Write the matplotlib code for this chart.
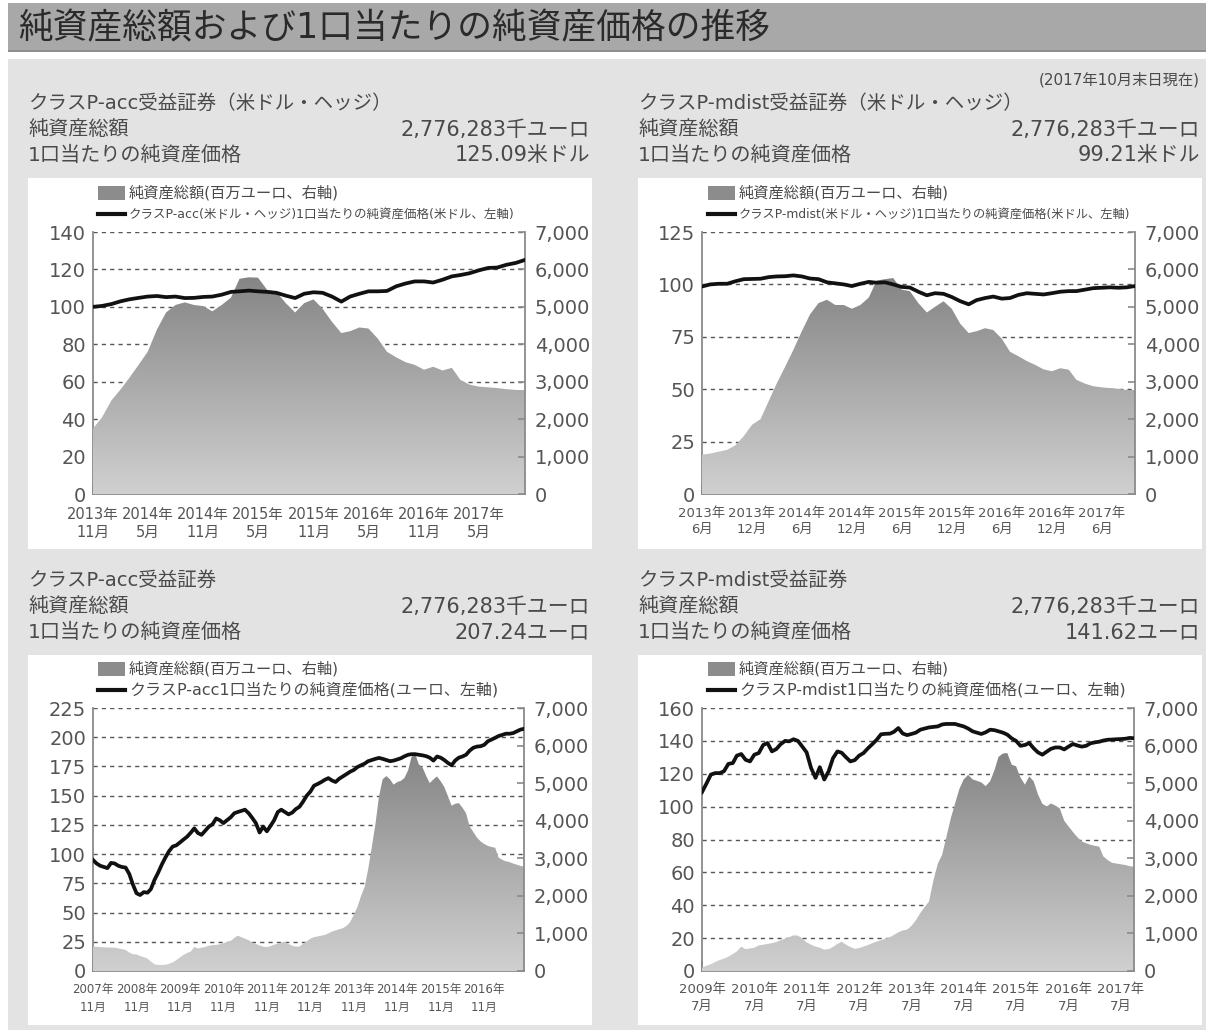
import numpy as np
import pandas as pd
import matplotlib
matplotlib.use('Agg')
import matplotlib.pyplot as plt
import matplotlib.dates as mdates
from matplotlib.patches import Rectangle
from matplotlib.lines import Line2D
from matplotlib.ticker import FuncFormatter
from matplotlib.colors import LinearSegmentedColormap

plt.rcParams['font.family'] = ['DejaVu Sans', 'Noto Sans CJK JP']

# ---------------- data ----------------
# Top-left: Class P-acc (USD hedged), monthly from 2013-11
tl_start = '2013-11'
tl_nav = [100.0, 100.5, 101.5, 103.0, 104.0, 104.8, 105.5, 105.8, 105.2, 105.5,
          104.7, 104.8, 105.3, 105.5, 106.5, 108.0, 108.3, 108.7, 108.3, 108.0,
          107.5, 106.0, 104.7, 107.0, 107.8, 107.5, 105.5, 102.8, 105.5, 107.0,
          108.3, 108.3, 108.5, 111.0, 112.5, 113.6, 113.6, 113.0, 114.5, 116.3,
          117.0, 118.0, 119.5, 120.8, 121.0, 122.5, 123.5, 125.09]
tl_aum = [1750, 2050, 2500, 2800, 3100, 3450, 3800, 4400, 4850, 5050,
          5120, 5050, 5020, 4880, 5050, 5250, 5750, 5790, 5780, 5450,
          5400, 5100, 4850, 5100, 5200, 4950, 4600, 4300, 4350, 4450,
          4420, 4150, 3800, 3650, 3520, 3450, 3320, 3400, 3300, 3370,
          3050, 2920, 2870, 2850, 2830, 2800, 2780, 2776]
tl_ticks = ['2013-11', '2014-05', '2014-11', '2015-05', '2015-11', '2016-05', '2016-11', '2017-05']
tl_ticklabels = ['2013年\n11月', '2014年\n5月', '2014年\n11月', '2015年\n5月',
                 '2015年\n11月', '2016年\n5月', '2016年\n11月', '2017年\n5月']

# Top-right: Class P-mdist (USD hedged), monthly from 2013-06
tr_start = '2013-06'
tr_nav = [99.0, 100.0, 100.3, 100.3, 101.5, 102.5, 102.6, 102.7, 103.5, 103.8,
          103.9, 104.3, 103.8, 102.8, 102.5, 101.0, 100.5, 100.0, 99.2, 100.3,
          101.2, 100.8, 101.0, 100.0, 98.8, 98.5, 96.5, 94.8, 95.8, 95.5,
          94.0, 92.0, 90.5, 92.5, 93.5, 94.2, 93.2, 93.5, 95.0, 95.8,
          95.5, 95.2, 95.8, 96.5, 96.8, 96.8, 97.5, 98.2, 98.4, 98.6,
          98.4, 98.6, 99.21]
tr_aum = [1050, 1080, 1130, 1180, 1300, 1550, 1850, 2000, 2500, 2950,
          3400, 3850, 4350, 4800, 5100, 5190, 5050, 5050, 4950, 5050,
          5250, 5700, 5740, 5770, 5460, 5420, 5100, 4850, 5000, 5150,
          4950, 4550, 4300, 4350, 4430, 4380, 4150, 3800, 3680, 3550,
          3450, 3330, 3280, 3360, 3320, 3050, 2950, 2880, 2850, 2830,
          2810, 2780, 2776]
tr_ticks = ['2013-06', '2013-12', '2014-06', '2014-12', '2015-06', '2015-12', '2016-06', '2016-12', '2017-06']
tr_ticklabels = ['2013年\n6月', '2013年\n12月', '2014年\n6月', '2014年\n12月', '2015年\n6月',
                 '2015年\n12月', '2016年\n6月', '2016年\n12月', '2017年\n6月']

# Bottom-left: Class P-acc (EUR), monthly from 2007-11
bl_start = '2007-11'
bl_nav = [95, 92, 90, 89, 88, 92.5, 92, 90, 89, 88.5,
          83, 74, 66.5, 65, 67.5, 67, 70, 78, 84, 91,
          97, 102.5, 106.5, 107.5, 110, 112.5, 115, 118.5, 122, 118,
          116.5, 120, 123.5, 125.5, 130.5, 129, 126.5, 129, 131.5, 135,
          136, 137, 138, 135, 131, 126.5, 118.5, 123.5, 119.5, 124,
          129, 136, 138, 136, 134, 135.5, 138.5, 140.5, 145, 150,
          153.5, 158.5, 160, 161.7, 163.5, 165, 163, 161.7, 164.5, 166.5,
          168.5, 170.5, 172, 174.5, 176, 177.5, 179.5, 180.5, 181.5, 182.3,
          181.5, 180.5, 179.5, 180, 181, 182, 183.7, 185, 185.5, 185.5,
          185, 184.5, 183.8, 182.5, 180, 183.5, 182.5, 180.5, 178, 176,
          180, 182.5, 183.5, 185, 188.5, 191, 192, 192.3, 193.5, 196.5,
          198, 199.5, 201, 202, 203, 203, 203.5, 205, 206.5, 207.24]
bl_aum = [650, 645, 635, 630, 625, 622, 620, 600, 580, 560,
          490, 450, 440, 400, 370, 330, 250, 180, 160, 160,
          165, 190, 230, 290, 360, 430, 480, 520, 640, 600,
          620, 640, 670, 690, 695, 710, 740, 770, 800, 880,
          940, 900, 860, 820, 760, 720, 680, 650, 635, 660,
          700, 730, 760, 780, 720, 670, 650, 650, 730, 790,
          860, 900, 920, 940, 960, 1000, 1050, 1080, 1110, 1140,
          1200, 1300, 1500, 1700, 2000, 2250, 2700, 3300, 3900, 4650,
          5100, 5190, 5100, 4960, 5030, 5060, 5140, 5350, 5700, 5780,
          5500, 5420, 5200, 5000, 5100, 5180, 5050, 4900, 4650, 4400,
          4450, 4470, 4350, 4200, 3850, 3700, 3550, 3450, 3380, 3330,
          3300, 3280, 3020, 2960, 2920, 2900, 2860, 2830, 2800, 2776]
bl_ticks = ['2007-11', '2008-11', '2009-11', '2010-11', '2011-11',
            '2012-11', '2013-11', '2014-11', '2015-11', '2016-11']
bl_ticklabels = ['2007年\n11月', '2008年\n11月', '2009年\n11月', '2010年\n11月', '2011年\n11月',
                 '2012年\n11月', '2013年\n11月', '2014年\n11月', '2015年\n11月', '2016年\n11月']

# Bottom-right: Class P-mdist (EUR), monthly from 2009-07
br_start = '2009-07'
br_nav = [108.8, 114, 119.5, 120.4, 120.4, 121.5, 126, 126.5, 131, 132,
          128.5, 127.5, 131.6, 132.6, 137.5, 138.7, 133.6, 135, 138, 140,
          139.7, 141, 140, 136.5, 133, 123.5, 117.5, 124, 116.5, 121.4,
          129.5, 133.6, 132.8, 130, 127.5, 128.3, 131, 132.6, 135.5, 138,
          140.7, 144, 144.3, 144.4, 145.5, 147.8, 144.5, 143.5, 144.2, 145,
          146.8, 147.5, 148.2, 148.5, 148.8, 150, 150.3, 150.3, 150.3, 149.5,
          148.8, 147.5, 145.8, 145, 144.2, 145.2, 146.8, 146.5, 145.8, 145,
          143.8, 141.5, 140, 137, 137.5, 138.7, 135.5, 133, 131.6, 133.5,
          135.2, 136, 136, 134.8, 136.5, 138.1, 137.2, 136.5, 137, 138.5,
          139.1, 139.5, 140.2, 140.7, 140.8, 141, 141.1, 141.3, 141.8, 141.62]
br_aum = [90, 140, 180, 240, 290, 330, 380, 450, 520, 650,
          580, 600, 620, 680, 700, 720, 740, 770, 820, 860,
          900, 950, 940, 870, 760, 700, 650, 620, 570, 580,
          640, 720, 780, 700, 640, 590, 610, 650, 690, 740,
          780, 820, 860, 900, 960, 1030, 1080, 1100, 1200, 1350,
          1540, 1700, 1850, 2400, 2850, 3100, 3550, 4050, 4450, 4850,
          5100, 5220, 5100, 5060, 5020, 4920, 5050, 5350, 5700, 5790,
          5800, 5490, 5450, 5150, 4960, 5180, 5050, 4700, 4450, 4380,
          4460, 4400, 4330, 4000, 3850, 3700, 3560, 3450, 3400, 3360,
          3330, 3310, 3050, 2950, 2880, 2860, 2840, 2820, 2790, 2776]
br_ticks = ['2009-07', '2010-07', '2011-07', '2012-07', '2013-07',
            '2014-07', '2015-07', '2016-07', '2017-07']
br_ticklabels = ['2009年\n7月', '2010年\n7月', '2011年\n7月', '2012年\n7月', '2013年\n7月',
                 '2014年\n7月', '2015年\n7月', '2016年\n7月', '2017年\n7月']

title = '純資産総額および1口当たりの純資産価格の推移'
asof = '(2017年10月末日現在)'
headers = [
    ('クラスP-acc受益証券（米ドル・ヘッジ）', '2,776,283千ユーロ', '125.09米ドル'),
    ('クラスP-mdist受益証券（米ドル・ヘッジ）', '2,776,283千ユーロ', '99.21米ドル'),
    ('クラスP-acc受益証券', '2,776,283千ユーロ', '207.24ユーロ'),
    ('クラスP-mdist受益証券', '2,776,283千ユーロ', '141.62ユーロ'),
]
legend_area = '純資産総額(百万ユーロ、右軸)'
legend_lines = [
    'クラスP-acc(米ドル・ヘッジ)1口当たりの純資産価格(米ドル、左軸)',
    'クラスP-mdist(米ドル・ヘッジ)1口当たりの純資産価格(米ドル、左軸)',
    'クラスP-acc1口当たりの純資産価格(ユーロ、左軸)',
    'クラスP-mdist1口当たりの純資産価格(ユーロ、左軸)',
]

# ---------------- figure ----------------
W, H = 1206, 1030
fig = plt.figure(figsize=(W / 100, H / 100), dpi=100)
fig.patch.set_facecolor('white')


def fx(x):
    return x / W


def fy(y):
    return 1 - y / H


def box(x0, y0, x1, y1, color, z=-10):
    fig.add_artist(Rectangle((fx(x0), fy(y1)), (x1 - x0) / W, (y1 - y0) / H,
                             transform=fig.transFigure, facecolor=color,
                             edgecolor='none', zorder=z))


def text(x, y, s, size, color='#333333', ha='left', va='center', **kw):
    fig.text(fx(x), fy(y), s, fontsize=size, color=color, ha=ha, va=va, **kw)


# backgrounds
box(8, 3, 1206, 52, '#a8a8a8')
box(8, 50, 1206, 52, '#8e8e8e')
box(8, 59, 1206, 1030, '#e3e3e3')
for (x0, y0, x1, y1) in [(28, 178, 592, 549), (638, 178, 1202, 549),
                         (28, 655, 592, 1025), (638, 655, 1202, 1025)]:
    box(x0, y0, x1, y1, 'white', z=-9)

text(18, 28, title, 25, color='#2a2a2a')
text(1200, 80, asof, 11, color='#4a4a4a', ha='right')

# headers
TXT = '#4a4a4a'
hdr_pos = [(28, 590, 103), (638, 1200, 103), (28, 590, 580), (638, 1200, 580)]
for (h, (xl, xr, y0)) in zip(headers, hdr_pos):
    text(xl, y0, h[0], 14, color=TXT)
    text(xl, y0 + 27, '純資産総額', 14.5, color=TXT)
    text(xl, y0 + 52, '1口当たりの純資産価格', 14.5, color=TXT)
    text(xr, y0 + 27, h[1], 15, color=TXT, ha='right')
    text(xr, y0 + 52, h[2], 15, color=TXT, ha='right')

cmap = LinearSegmentedColormap.from_list('aum', ['#d0d0d0', '#858585'])
SPINE = '#8a8a8a'


def panel(rect_px, start, nav, aum, ymax, ystep, ticks, ticklabels, xfs, xls,
          leg_x, leg_y, leg_line, leg_fs):
    l, t, r, b = rect_px
    pos = [fx(l), fy(b), (r - l) / W, (b - t) / H]
    x = mdates.date2num(pd.date_range(start, periods=len(nav), freq='MS').to_pydatetime())
    tx = mdates.date2num(pd.to_datetime(ticks).to_pydatetime())

    axL = fig.add_axes(pos)
    axL.set_facecolor('white')
    axL.set_xlim(x[0], x[-1])
    axL.set_ylim(0, ymax)
    axL.set_yticks(np.arange(0, ymax + 0.1, ystep))
    axL.yaxis.grid(True, linestyle=(0, (3, 3)), color='#555555', lw=1.0)
    axL.set_xticks(tx)
    axL.set_xticklabels(ticklabels, linespacing=xls)
    axL.tick_params(axis='y', length=0, labelsize=14, labelcolor='#555555', pad=5)
    axL.tick_params(axis='x', direction='in', length=7, width=1.2, color=SPINE,
                    labelsize=xfs, labelcolor='#555555', pad=9)
    for s in ['top', 'right']:
        axL.spines[s].set_visible(False)
    for s in ['left', 'bottom']:
        axL.spines[s].set_color(SPINE)
        axL.spines[s].set_linewidth(1.3)

    axR = axL.twinx()
    axR.set_ylim(0, 7000)
    axR.set_yticks(np.arange(0, 7001, 1000))
    axR.yaxis.set_major_formatter(FuncFormatter(lambda v, p: f'{int(v):,}'))
    axR.tick_params(axis='y', direction='in', length=5, width=1.2, color=SPINE,
                    labelsize=14, labelcolor='#555555', pad=7)
    for s in ['top', 'left', 'bottom']:
        axR.spines[s].set_visible(False)
    axR.spines['right'].set_color(SPINE)
    axR.spines['right'].set_linewidth(1.3)
    poly = axR.fill_between(x, 0, aum, facecolor='none', edgecolor='none')
    grad = np.linspace(0, 1, 256).reshape(-1, 1)
    im = axR.imshow(grad, extent=[x[0], x[-1], 0, max(aum)], origin='lower',
                    aspect='auto', cmap=cmap, interpolation='bilinear', zorder=1)
    im.set_clip_path(poly.get_paths()[0], transform=axR.transData)
    axR.set_xlim(x[0], x[-1])
    axR.set_ylim(0, 7000)

    axT = fig.add_axes(pos, sharex=axL, sharey=axL, label='line' + start)
    axT.patch.set_visible(False)
    axT.set_axis_off()
    axT.plot(x, nav, color='#111111', lw=2.7, solid_joinstyle='round')
    axT.set_xlim(x[0], x[-1])
    axT.set_ylim(0, ymax)

    # legend
    fig.add_artist(Rectangle((fx(leg_x), fy(leg_y + 7)), 27 / W, 14 / H,
                             transform=fig.transFigure, facecolor='#8c8c8c',
                             edgecolor='none', zorder=5))
    text(leg_x + 31, leg_y, legend_area, 11, color=TXT)
    fig.add_artist(Line2D([fx(leg_x), fx(leg_x + 27)], [fy(leg_y + 21)] * 2,
                          transform=fig.transFigure, color='#111111', lw=3, zorder=5))
    text(leg_x + 31, leg_y + 21, leg_line, leg_fs, color=TXT)


panel((93, 232, 525, 494), tl_start, tl_nav, tl_aum, 140, 20, tl_ticks, tl_ticklabels,
      10.5, 1.25, 98, 193, legend_lines[0], 9)
panel((702, 232, 1135, 494), tr_start, tr_nav, tr_aum, 125, 25, tr_ticks, tr_ticklabels,
      9.5, 1.35, 708, 193, legend_lines[1], 8.8)
panel((93, 708, 524, 971), bl_start, bl_nav, bl_aum, 225, 25, bl_ticks, bl_ticklabels,
      8.5, 1.45, 98, 669, legend_lines[2], 11.5)
panel((702, 708, 1134, 971), br_start, br_nav, br_aum, 160, 20, br_ticks, br_ticklabels,
      9.5, 1.3, 708, 669, legend_lines[3], 11.5)

fig.savefig('out.png', dpi=100, facecolor='white')
